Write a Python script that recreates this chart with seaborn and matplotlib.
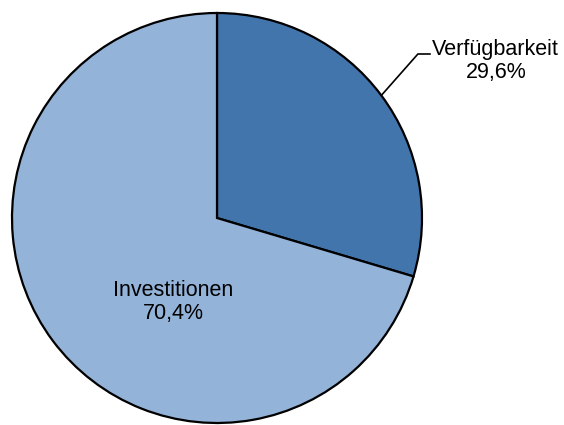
import numpy as np
import seaborn as sns
import matplotlib
matplotlib.use("Agg")
import matplotlib.pyplot as plt

# data
labels = ["Verfügbarkeit", "Investitionen"]
shares = [29.6, 70.4]
colors = ["#4375AD", "#93B3D8"]

sns.set_style("white")
plt.rcParams["font.family"] = ["Liberation Sans", "DejaVu Sans"]

fig = plt.figure(figsize=(5.64, 4.25), dpi=100)
ax = fig.add_axes([12 / 564, 2 / 425, 410 / 564, 410 / 425])

wedges, _ = ax.pie(shares, colors=colors, startangle=90, counterclock=False,
                   wedgeprops=dict(edgecolor="black", linewidth=1.6))
ax.set_xlim(-1, 1)
ax.set_ylim(-1, 1)
ax.set_aspect("equal")
ax.axis("off")

def pct(v):
    return f"{v:.1f}".replace(".", ",") + "%"

# outside label with leader line for the small slice
w = wedges[0]
mid = np.deg2rad((w.theta1 + w.theta2) / 2)
px, py = np.cos(mid), np.sin(mid)
ax.plot([px, 0.98, 1.04], [py, 0.80, 0.80], color="black", lw=1.2, clip_on=False)
ax.text(1.36, 0.765, f"{labels[0]}\n{pct(shares[0])}", ha="center", va="center",
        fontsize=15.5, linespacing=1.1, color="black", clip_on=False)

# inside label for the big slice
ax.text(-0.215, -0.41, f"{labels[1]}\n{pct(shares[1])}", ha="center", va="center",
        fontsize=15.5, linespacing=1.1, color="black")

fig.savefig("out.png", dpi=100)
